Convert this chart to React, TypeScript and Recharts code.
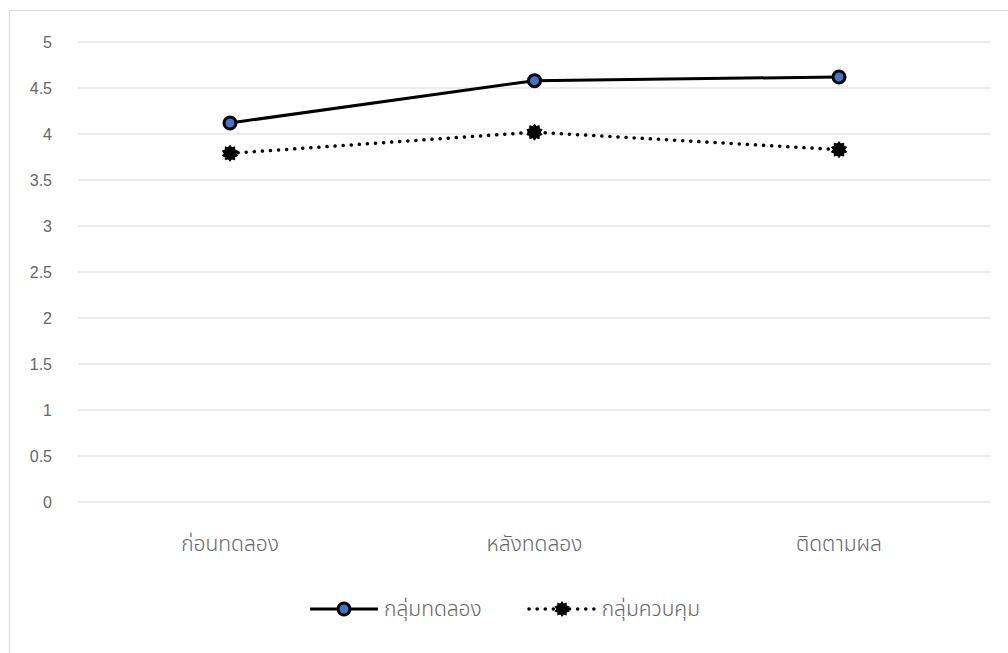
import { LineChart, Line, XAxis, YAxis, CartesianGrid, Legend } from 'recharts';

const phases = ['ก่อนทดลอง', 'หลังทดลอง', 'ติดตามผล'];
const experimental = [4.12, 4.58, 4.62];
const control = [3.79, 4.02, 3.83];
const yTicks = [0, 0.5, 1, 1.5, 2, 2.5, 3, 3.5, 4, 4.5, 5];
const seriesNames = ['กลุ่มทดลอง', 'กลุ่มควบคุม'];

const data = phases.map((phase, i) => ({
  phase,
  [seriesNames[0]]: experimental[i],
  [seriesNames[1]]: control[i],
}));

const ink = '#666666';
const thaiFont = '"Noto Sans Thai", "Noto Sans", "DejaVu Sans", sans-serif';

// blobby black star, like the office "asterisk" marker
function starPath(cx: number, cy: number, outer = 8, inner = 5.8, spikes = 10) {
  const pts: string[] = [];
  for (let k = 0; k < spikes * 2; k++) {
    const r = k % 2 === 0 ? outer : inner;
    const a = (Math.PI * k) / spikes - Math.PI / 2;
    pts.push(`${(cx + r * Math.cos(a)).toFixed(2)},${(cy + r * Math.sin(a)).toFixed(2)}`);
  }
  return `M${pts.join('L')}Z`;
}

const StarDot = (props: any) => {
  const { cx, cy } = props;
  if (cx == null || cy == null) return null;
  return <path key={`s-${cx}`} d={starPath(cx, cy)} fill="#000" stroke="#000" strokeWidth={1} />;
};

const CircleDot = (props: any) => {
  const { cx, cy } = props;
  if (cx == null || cy == null) return null;
  return <circle key={`c-${cx}`} cx={cx} cy={cy} r={6} fill="#4472C4" stroke="#000" strokeWidth={3} />;
};

const LegendBox = () => (
  <div style={{ display: 'flex', justifyContent: 'center', alignItems: 'center', height: 30, fontFamily: thaiFont, fontSize: 21, fontWeight: 300, color: ink }}>
    <svg width={72} height={20} style={{ marginRight: 4 }}>
      <line x1={2} y1={10} x2={70} y2={10} stroke="#000" strokeWidth={3} />
      <circle cx={36} cy={10} r={6} fill="#4472C4" stroke="#000" strokeWidth={3} />
    </svg>
    <span style={{ marginRight: 44 }}>{seriesNames[0]}</span>
    <svg width={72} height={20} style={{ marginRight: 4 }}>
      <line x1={3} y1={10} x2={70} y2={10} stroke="#000" strokeWidth={3.5} strokeDasharray="0.1 8" strokeLinecap="round" />
      <path d={starPath(36, 10)} fill="#000" />
    </svg>
    <span>{seriesNames[1]}</span>
  </div>
);

export default function App() {
  return (
    <div style={{ position: 'absolute', left: 0, top: 0, width: 1008, height: 653, overflow: 'hidden', background: '#fff' }}>
      <div style={{ position: 'absolute', left: 9, top: 10, width: 1020, height: 660, border: '1px solid #d9d9d9' }} />
      <div style={{ position: 'absolute', left: 0, top: 0 }}>
        <LineChart width={1008} height={653} data={data} margin={{ top: 42, right: 17, bottom: 61, left: 10 }}>
          <CartesianGrid stroke="#d9d9d9" strokeWidth={1} vertical={false} />
          <XAxis
            dataKey="phase"
            padding={{ left: 152, right: 152 }}
            axisLine={false}
            tickLine={false}
            tickSize={0}
            tickMargin={34}
            height={60}
            tick={{ fill: ink, fontSize: 21, fontWeight: 300, fontFamily: thaiFont }}
          />
          <YAxis
            domain={[0, 5]}
            ticks={yTicks}
            interval={0}
            axisLine={false}
            tickLine={false}
            tickSize={0}
            tickMargin={26}
            width={68}
            tick={{ fill: ink, fontSize: 16, fontFamily: '"Liberation Sans", Arial, sans-serif' }}
          />
          <Legend
            verticalAlign="bottom"
            height={30}
            content={() => <LegendBox />}
            wrapperStyle={{ top: 594, left: 0, width: 1008 }}
          />
          <Line
            dataKey={seriesNames[0]}
            stroke="#000"
            strokeWidth={3}
            dot={<CircleDot />}
            activeDot={false}
            isAnimationActive={false}
          />
          <Line
            dataKey={seriesNames[1]}
            stroke="#000"
            strokeWidth={3.5}
            strokeDasharray="0.1 8"
            strokeLinecap="round"
            dot={<StarDot />}
            activeDot={false}
            isAnimationActive={false}
          />
        </LineChart>
      </div>
    </div>
  );
}
